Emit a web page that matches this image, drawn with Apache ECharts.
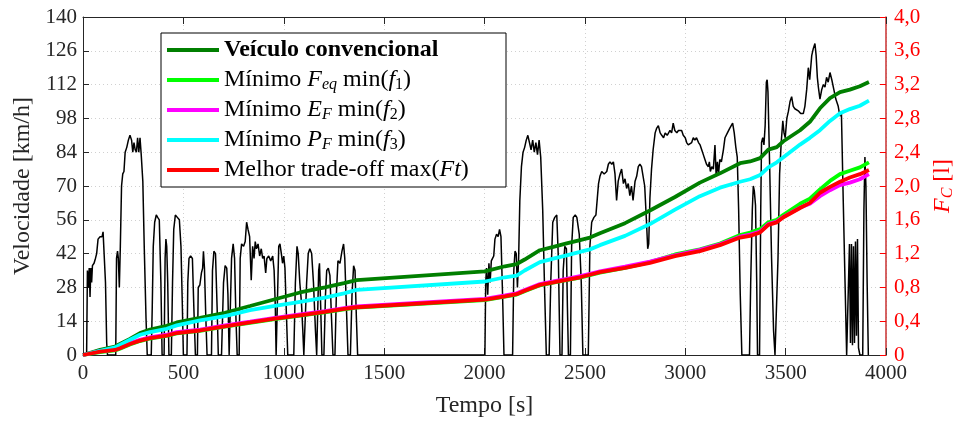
<!DOCTYPE html>
<html><head><meta charset="utf-8">
<script src="https://cdn.jsdelivr.net/npm/echarts@6/dist/echarts.min.js"></script>
<style>html,body{margin:0;padding:0;background:#fff}#c{width:955px;height:421px}</style>
</head><body><div id="c"></div>
<script>
// Speed trace [time s, speed km/h]
const speedTrace = [
[0,0],[18,0],[22,35],[27,28],[31,36],[35,24],[39,36],[43,30],[47,37],[55,38],[62,40],[68,42],[75,48],[85,49],[95,49],[100,51],[108,51],[112,30],[118,5],[122,0],
[163,0],[167,40],[172,43],[176,40],[181,28],[186,45],[192,70],[198,75],[204,76],[210,84],[218,86],[226,89],[234,91],[242,89],[248,84],[254,88],[260,85],[266,84],[272,90],[278,84],[284,90],[290,83],[298,72],[305,45],[314,15],[320,0],
[340,0],[345,20],[350,45],[357,55],[365,58],[372,57],[380,56],[388,30],[394,0],[404,0],[409,40],[413,48],[417,45],[422,30],[428,0],
[440,0],[446,30],[452,52],[460,58],[470,57],[480,56],[488,45],[495,20],[500,0],
[518,0],[522,30],[528,40],[536,41],[545,40],[552,20],[560,0],
[570,0],[574,28],[582,29],[590,34],[596,36],[600,43],[605,36],[612,15],[618,0],
[640,0],[645,35],[652,43],[660,42],[668,20],[674,0],
[690,0],[700,30],[708,37],[716,36],[722,25],[728,0],[735,0],[740,40],[748,46],[755,40],[762,15],[768,0],
[778,0],[783,40],[790,46],[800,45],[808,47],[815,55],[822,52],[830,49],[838,31],[845,45],[852,40],[858,47],[864,44],[872,46],[880,41],[888,44],[895,40],[902,41],[910,34],[916,40],[925,41],[935,39],[945,41],[952,35],[958,20],[962,0],
[968,0],[975,45],[981,46],[988,42],[994,38],[1000,41],[1006,36],[1012,20],[1020,0],
[1050,0],[1058,30],[1066,45],[1072,42],[1080,30],[1088,22],[1095,10],[1100,0],
[1108,0],[1114,30],[1122,42],[1130,44],[1139,42],[1148,30],[1158,10],[1164,0],
[1170,0],[1174,35],[1178,38],[1184,20],[1190,0],[1200,0],[1208,25],[1214,35],[1222,36],[1230,33],[1238,15],[1245,0],
[1255,0],[1262,25],[1270,39],[1280,38],[1290,43],[1298,46],[1304,40],[1312,20],[1320,0],
[1332,0],[1340,25],[1348,37],[1355,35],[1362,15],[1368,0],
[2002,0],[2006,30],[2010,36],[2016,25],[2022,38],[2028,30],[2034,39],[2040,40],[2046,41],[2052,48],[2060,50],[2068,49],[2075,52],[2082,49],[2090,25],[2097,0],
[2140,0],[2146,35],[2152,43],[2158,42],[2164,28],[2170,40],[2176,64],[2184,78],[2192,84],[2200,86],[2208,89],[2216,91],[2224,88],[2232,85],[2240,89],[2248,84],[2256,88],[2264,83],[2272,89],[2280,82],[2290,60],[2300,25],[2308,0],
[2322,0],[2330,30],[2340,55],[2350,57],[2360,58],[2368,40],[2376,0],
[2386,0],[2392,35],[2400,45],[2408,44],[2413,20],[2418,0],
[2428,0],[2434,45],[2442,57],[2452,58],[2460,57],[2472,50],[2482,30],[2490,0],
[2517,0],[2525,45],[2534,55],[2545,57],[2555,58],[2562,65],[2568,71],[2575,74],[2584,76],[2596,75],[2609,76],[2617,79],[2625,80],[2634,79],[2642,80],[2650,75],[2658,64],[2666,72],[2675,75],[2683,77],[2692,71],[2700,73],[2708,69],[2716,71],[2724,66],[2732,70],[2740,64],[2750,72],[2758,74],[2766,78],[2774,79],[2782,78],[2791,78],[2798,70],[2807,55],[2813,44],[2818,46],[2824,65],[2832,77],[2840,85],[2850,92],[2858,94],[2866,95],[2875,92],[2883,91],[2892,90],[2900,92],[2910,91],[2924,93],[2932,92],[2940,96],[2948,93],[2958,92],[2966,93],[2974,93],[2982,93],[2990,91],[3000,90],[3007,88],[3015,87],[3023,87],[3032,88],[3040,90],[3048,89],[3056,90],[3066,88],[3074,87],[3082,85],[3090,83],[3098,81],[3106,79],[3115,78],[3120,80],[3125,76],[3132,78],[3140,77],[3148,87],[3154,74],[3160,80],[3166,75],[3172,81],[3180,80],[3190,85],[3198,90],[3210,92],[3222,94],[3236,96],[3244,92],[3252,86],[3259,82],[3266,60],[3274,25],[3282,0],
[3320,0],[3326,30],[3334,60],[3339,70],[3344,68],[3350,62],[3356,30],[3360,0],
[3370,0],[3376,60],[3380,88],[3386,90],[3392,87],[3398,95],[3404,113],[3408,114],[3412,109],[3420,80],[3430,40],[3440,10],[3447,0],
[3455,0],[3462,40],[3470,75],[3478,88],[3486,97],[3492,92],[3498,90],[3506,98],[3514,101],[3522,105],[3530,107],[3538,103],[3546,102],[3555,102],[3565,101],[3575,100],[3588,100],[3596,103],[3605,110],[3613,119],[3620,114],[3630,124],[3638,127],[3646,129],[3652,124],[3658,115],[3663,111],[3671,106],[3680,110],[3688,112],[3696,111],[3704,115],[3712,113],[3721,117],[3730,114],[3740,110],[3750,106],[3762,103],[3770,99],[3778,100],[3787,64],[3796,30],[3804,0],
[3812,0],[3818,46],[3823,5],[3828,46],[3833,4],[3838,45],[3843,5],[3848,47],[3853,8],[3858,48],[3863,3],[3870,0],[3884,0],[3890,60],[3895,82],[3900,70],[3906,30],[3912,0]
];

// Cumulative fuel [l] sampled at fuelTime
const fuelTime = [0,85,160,184,234,284,334,417,467,583,707,832,956,1081,1205,1300,1363,2002,2102,2160,2200,2276,2343,2409,2476,2525,2575,2700,2824,2949,3073,3173,3273,3323,3373,3414,3456,3489,3572,3621,3671,3721,3771,3820,3870,3915];
const fuelConv = [0,0.06,0.10,0.13,0.19,0.26,0.30,0.345,0.385,0.44,0.50,0.58,0.66,0.74,0.80,0.85,0.885,0.99,1.05,1.075,1.13,1.24,1.28,1.32,1.36,1.39,1.44,1.56,1.71,1.87,2.04,2.15,2.27,2.29,2.33,2.43,2.46,2.53,2.66,2.76,2.92,3.04,3.11,3.14,3.18,3.23];
const fuelFeq  = [0,0.035,0.055,0.075,0.125,0.165,0.195,0.225,0.255,0.285,0.335,0.38,0.425,0.465,0.505,0.54,0.56,0.65,0.69,0.715,0.755,0.825,0.855,0.885,0.915,0.945,0.975,1.03,1.10,1.19,1.25,1.32,1.42,1.45,1.49,1.57,1.60,1.66,1.79,1.85,1.96,2.06,2.14,2.18,2.22,2.28];
const fuelEf   = [0,0.045,0.065,0.085,0.14,0.18,0.21,0.24,0.27,0.30,0.35,0.395,0.44,0.48,0.52,0.555,0.575,0.665,0.705,0.73,0.77,0.84,0.87,0.90,0.935,0.96,0.99,1.045,1.105,1.18,1.245,1.31,1.40,1.425,1.46,1.55,1.58,1.635,1.745,1.79,1.88,1.95,2.01,2.04,2.08,2.14];
const fuelPf   = [0,0.05,0.09,0.12,0.18,0.24,0.27,0.31,0.35,0.41,0.46,0.53,0.58,0.63,0.68,0.73,0.77,0.87,0.92,0.94,1.00,1.10,1.14,1.18,1.22,1.25,1.30,1.41,1.55,1.72,1.88,1.98,2.05,2.08,2.13,2.22,2.28,2.34,2.49,2.57,2.66,2.77,2.86,2.91,2.95,3.01];
const fuelBest = [0,0.04,0.06,0.08,0.13,0.17,0.20,0.23,0.26,0.29,0.34,0.385,0.43,0.47,0.51,0.545,0.565,0.655,0.695,0.72,0.76,0.83,0.86,0.89,0.92,0.95,0.98,1.03,1.09,1.17,1.23,1.30,1.39,1.41,1.45,1.54,1.57,1.63,1.74,1.80,1.92,1.99,2.05,2.10,2.14,2.19];

const seriesNames = ['Veículo convencional','Mínimo Feq min(f1)','Mínimo EF min(f2)','Mínimo PF min(f3)','Melhor trade-off max(Ft)'];
const legendRich = {
  'Veículo convencional': '{b|Veículo convencional}',
  'Mínimo Feq min(f1)': '{r|Mínimo }{i|F}{s|eq}{r| min(}{i|f}{n|1}{r|)}',
  'Mínimo EF min(f2)': '{r|Mínimo }{i|E}{s|F}{r| min(}{i|f}{n|2}{r|)}',
  'Mínimo PF min(f3)': '{r|Mínimo }{i|P}{s|F}{r| min(}{i|f}{n|3}{r|)}',
  'Melhor trade-off max(Ft)': '{r|Melhor trade-off max(}{i|Ft}{r|)}'
};

const FF = 'Liberation Serif';
const fuelSets = [fuelConv, fuelFeq, fuelEf, fuelPf, fuelBest];
const fuelColors = ['#007f00','#00ff00','#ff00ff','#00ffff','#ff0000'];

const chart = echarts.init(document.getElementById('c'), null, {renderer:'canvas'});
const series = [{
  name:'speed', type:'line', xAxisIndex:0, yAxisIndex:0, showSymbol:false, z:1,
  lineStyle:{color:'#000', width:1.5}, data: speedTrace, animation:false
}];
fuelSets.forEach((vals, k) => {
  series.push({
    name: seriesNames[k], type:'line', xAxisIndex:0, yAxisIndex:1, showSymbol:false, z:2+k,
    lineStyle:{color:fuelColors[k], width:3.8}, itemStyle:{color:fuelColors[k]},
    data: fuelTime.map((t,i)=>[t, vals[i]]), animation:false
  });
});

const rich = {
  r:{fontFamily:FF, fontSize:24, lineHeight:26, color:'#000'},
  b:{fontFamily:FF, fontSize:24, lineHeight:26, fontWeight:'bold', color:'#000'},
  i:{fontFamily:FF, fontSize:24, lineHeight:26, fontStyle:'italic', color:'#000'},
  s:{fontFamily:FF, fontSize:16, lineHeight:16, fontStyle:'italic', verticalAlign:'bottom', color:'#000'},
  n:{fontFamily:FF, fontSize:16, lineHeight:16, verticalAlign:'bottom', color:'#000'}
};

chart.setOption({
  animation:false,
  backgroundColor:'#fff',
  grid:{left:83, right:69, top:17, bottom:66, outerBoundsMode:'none', containLabel:false},
  legend:{
    show:true, left:161, top:33, orient:'vertical', icon:'rect', itemWidth:52, itemHeight:4, itemGap:4,
    padding:[4,6,4,6], borderColor:'#000', borderWidth:1, backgroundColor:'#fff',
    data: seriesNames, selectedMode:false,
    formatter: n => legendRich[n],
    textStyle:{fontFamily:FF, fontSize:24, lineHeight:26, color:'#000', width:276, rich:rich}
  },
  xAxis:[{
    type:'value', position:'bottom', min:0, max:4000, interval:500,
    name:'Tempo [s]', nameLocation:'middle', nameGap:39,
    nameTextStyle:{fontFamily:FF, fontSize:24, color:'#262626'},
    axisLine:{show:true, onZero:false, lineStyle:{color:'#262626', width:1}},
    axisTick:{show:true, inside:true, length:7, lineStyle:{color:'#262626'}},
    axisLabel:{fontFamily:FF, fontSize:21, color:'#262626', margin:8, formatter: v => String(v)},
    splitLine:{show:true, lineStyle:{color:'#d0d0d0', type:[1,3], width:1}}
  },{
    type:'value', position:'top', min:0, max:4000, interval:500,
    axisLine:{show:true, onZero:false, lineStyle:{color:'#262626', width:1}},
    axisTick:{show:true, inside:true, length:7, lineStyle:{color:'#262626'}},
    axisLabel:{show:false}, splitLine:{show:false}
  }],
  yAxis:[{
    type:'value', position:'left', min:0, max:140, interval:14,
    name:'Velocidade [km/h]', nameLocation:'middle', nameGap:44, nameRotate:90,
    nameTextStyle:{fontFamily:FF, fontSize:24, color:'#262626'},
    axisLine:{show:true, onZero:false, lineStyle:{color:'#262626', width:1}},
    axisTick:{show:true, inside:true, length:6, lineStyle:{color:'#262626'}},
    axisLabel:{fontFamily:FF, fontSize:21, color:'#262626', margin:6, formatter: v => String(v)},
    splitLine:{show:true, lineStyle:{color:'#d0d0d0', type:[1,3], width:1}}
  },{
    type:'value', position:'right', min:0, max:4, interval:0.4,
    name:'{i|F}{s|C}{r| [l]}', nameLocation:'middle', nameGap:44, nameRotate:90,
    nameTextStyle:{fontFamily:FF, fontSize:24, color:'#ff0000', rich:{
      r:{fontFamily:FF, fontSize:24, lineHeight:26, color:'#ff0000'},
      i:{fontFamily:FF, fontSize:24, lineHeight:26, fontStyle:'italic', color:'#ff0000'},
      s:{fontFamily:FF, fontSize:16, lineHeight:16, fontStyle:'italic', verticalAlign:'bottom', color:'#ff0000'}
    }},
    axisLine:{show:true, onZero:false, lineStyle:{color:'#c83030', width:1.5}},
    axisTick:{show:true, inside:true, length:6, lineStyle:{color:'#ff0000'}},
    axisLabel:{fontFamily:FF, fontSize:21, color:'#ff0000', margin:8,
      formatter: v => v === 0 ? '0' : v.toFixed(1).replace('.', ',')},
    splitLine:{show:false}
  }],
  series: series
});
</script>
</body></html>
